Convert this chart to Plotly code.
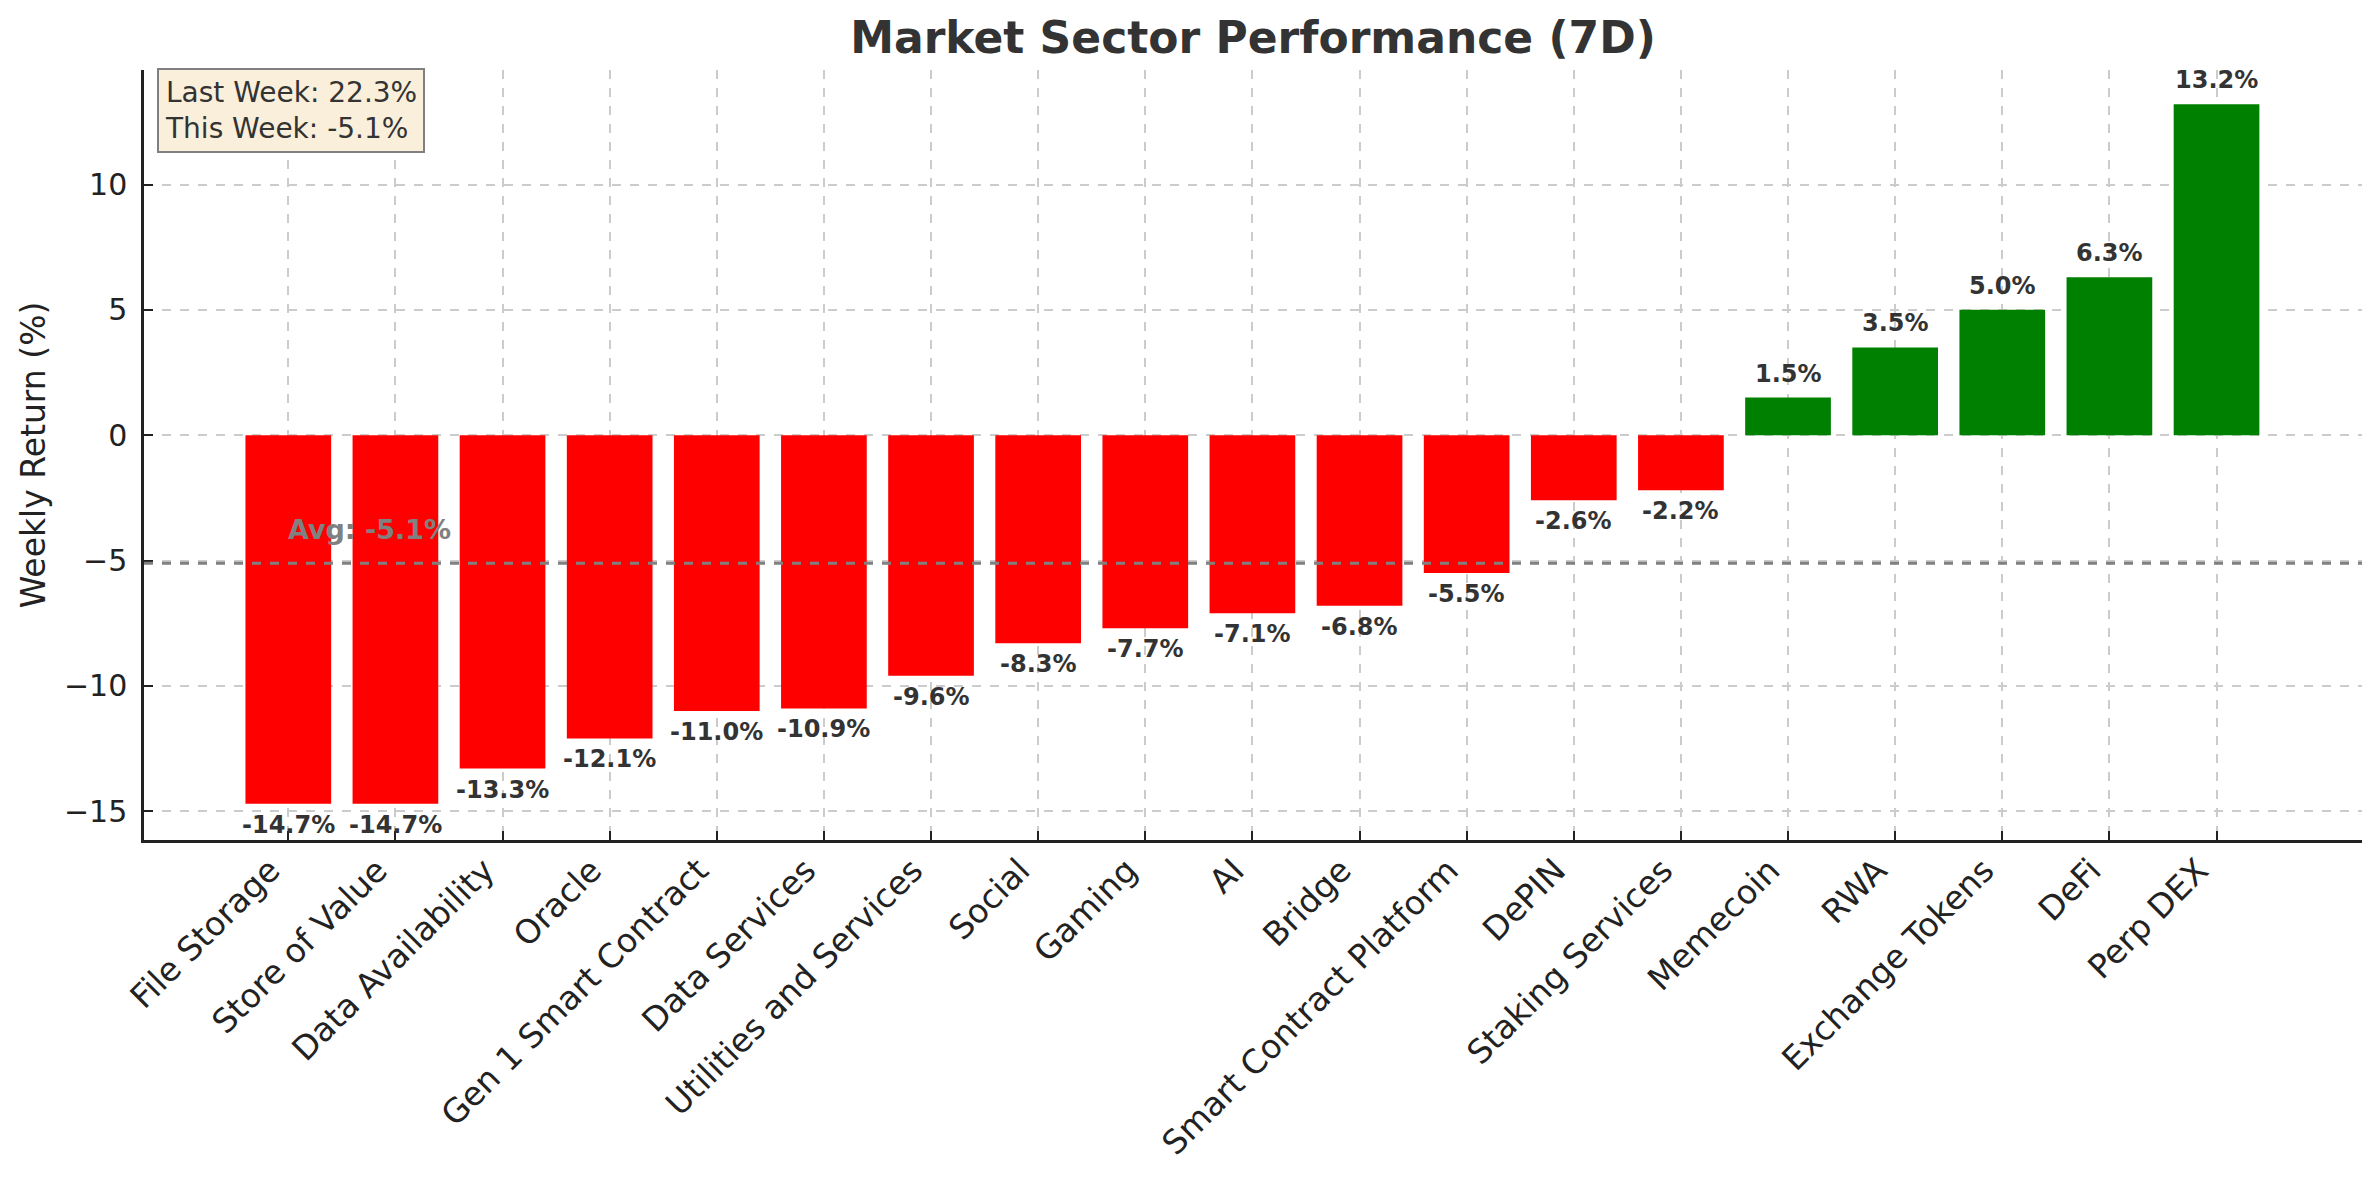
import plotly.graph_objects as go

categories = ["File Storage", "Store of Value", "Data Availability", "Oracle",
              "Gen 1 Smart Contract", "Data Services", "Utilities and Services",
              "Social", "Gaming", "AI", "Bridge", "Smart Contract Platform",
              "DePIN", "Staking Services", "Memecoin", "RWA", "Exchange Tokens",
              "DeFi", "Perp DEX"]
returns = [-14.7, -14.7, -13.3, -12.1, -11.0, -10.9, -9.6, -8.3, -7.7, -7.1,
           -6.8, -5.5, -2.6, -2.2, 1.5, 3.5, 5.0, 6.3, 13.2]
last_week_total = 22.3
this_week_total = -5.1
avg_return = sum(returns) / len(returns)
y_ticks = [-15, -10, -5, 0, 5, 10]

FONT = "DejaVu Sans"
colors = ["#008000" if v >= 0 else "#FF0000" for v in returns]

W, H = 2363, 1164  # page body has an 8px margin

fig = go.Figure()
fig.add_trace(go.Bar(x=categories, y=returns, marker=dict(color=colors, line=dict(width=0)),
                     width=0.8, showlegend=False))

# average line
fig.add_shape(type="line", xref="paper", x0=0, x1=1, yref="y", y0=avg_return, y1=avg_return,
              line=dict(color="#808080", width=3, dash="dash"), layer="above")

annotations = []
for c, v in zip(categories, returns):
    annotations.append(dict(
        x=c, y=v, xref="x", yref="y", text=f"<b>{v:.1f}%</b>", showarrow=False,
        font=dict(family=FONT, size=24, color="#333333"),
        yanchor="bottom" if v >= 0 else "top", yshift=8 if v >= 0 else -5,
        xanchor="center"))

annotations.append(dict(
    x=categories[0], y=avg_return + 1.0, xref="x", yref="y", text=f"<b>Avg: {avg_return:.1f}%</b>",
    showarrow=False, xanchor="left", yanchor="bottom", xshift=-2, yshift=-9,
    font=dict(family=FONT, size=27, color="#808080")))

annotations.append(dict(
    xref="paper", yref="paper", x=0.0059, y=1.003, xanchor="left", yanchor="top",
    text=f"Last Week: {last_week_total:.1f}%<br>This Week: {this_week_total:.1f}%",
    align="left", showarrow=False, bgcolor="#FAEFDA", bordercolor="#808080",
    borderwidth=2, borderpad=6, font=dict(family=FONT, size=28, color="#333333")))

fig.update_layout(
    width=W, height=H,
    margin=dict(l=136, r=9, t=62, b=332, autoexpand=False),
    plot_bgcolor="white", paper_bgcolor="white",
    font=dict(family=FONT, size=30, color="#222222"),
    title=dict(text="<b>Market Sector Performance (7D)</b>", x=0.5, xref="paper",
               y=1 - 30 / H, yref="container", xanchor="center", yanchor="middle",
               font=dict(family=FONT, size=44, color="#333333")),
    annotations=annotations,
    bargap=0.2,
)

fig.update_xaxes(
    type="category", range=[-1.347, len(categories) - 1 + 1.358], automargin=False,
    tickangle=-45, showline=True, linecolor="#222222", linewidth=2.5, mirror=False,
    ticks="inside", ticklen=9, tickwidth=2, tickcolor="#222222",
    ticklabelshift=-18, ticklabelstandoff=-5,
    showgrid=True, gridcolor="#cccccc", griddash="dash", gridwidth=1.5,
    tickfont=dict(family=FONT, size=33, color="#222222"), zeroline=False)

fig.update_yaxes(
    range=[-16.15, 14.57], tickvals=y_ticks, automargin=False,
    showline=True, linecolor="#222222", linewidth=2.5, mirror=False,
    ticks="inside", ticklen=9, tickwidth=2, tickcolor="#222222",
    ticklabelstandoff=8,
    showgrid=True, gridcolor="#cccccc", griddash="dash", gridwidth=1.5,
    zeroline=False,
    tickfont=dict(family=FONT, size=30, color="#222222"),
    title=dict(text="Weekly Return (%)", standoff=9, font=dict(family=FONT, size=33, color="#222222")))

fig.write_html("out.html")
